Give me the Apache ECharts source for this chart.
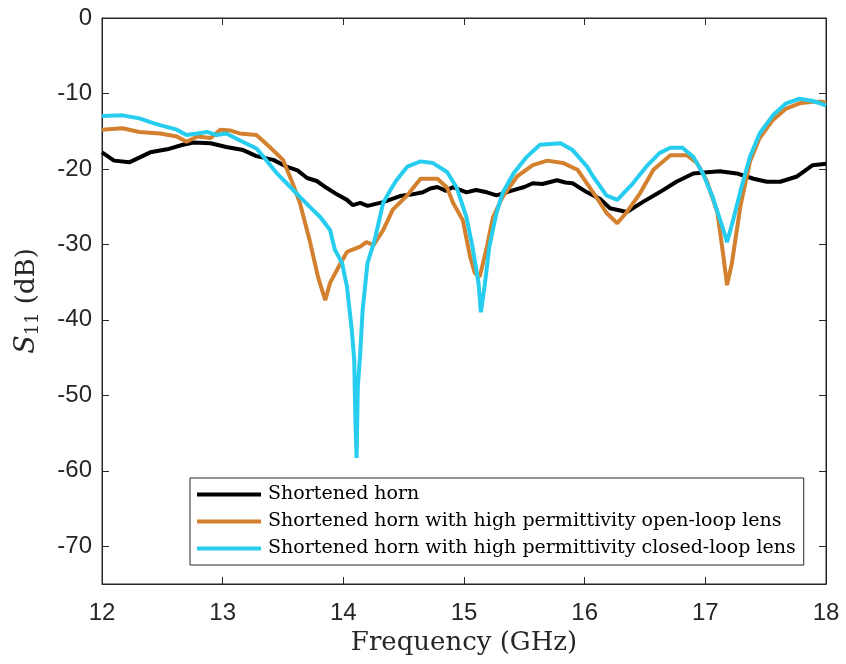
<!DOCTYPE html>
<html>
<head>
<meta charset="utf-8">
<script src="https://cdn.jsdelivr.net/npm/echarts@6/dist/echarts.min.js"></script>
<style>html,body{margin:0;padding:0;background:#fff}#c{width:846px;height:664px}</style>
</head>
<body>
<div id="c"></div>
<script>
// ---- data ----
const seriesNames = [
  'Shortened horn',
  'Shortened horn with high permittivity open-loop lens',
  'Shortened horn with high permittivity closed-loop lens'
];
const yTicks = [0, -10, -20, -30, -40, -50, -60, -70];
const xTicks = [12, 13, 14, 15, 16, 17, 18];

const freqB = [12.0, 12.1, 12.23, 12.4, 12.54, 12.67, 12.76, 12.9, 13.03, 13.17, 13.28, 13.42, 13.53, 13.62, 13.7, 13.78, 13.86, 13.95, 14.03, 14.08, 14.14, 14.2, 14.33, 14.4, 14.47, 14.56, 14.66, 14.72, 14.78, 14.85, 14.91, 15.02, 15.1, 15.19, 15.27, 15.41, 15.5, 15.57, 15.65, 15.77, 15.84, 15.9, 16.02, 16.13, 16.21, 16.35, 16.48, 16.62, 16.76, 16.9, 17.04, 17.12, 17.26, 17.4, 17.51, 17.62, 17.76, 17.89, 18.0];
const valB = [-17.8, -18.9, -19.1, -17.8, -17.4, -16.8, -16.5, -16.6, -17.1, -17.5, -18.3, -18.8, -19.7, -20.2, -21.2, -21.6, -22.5, -23.4, -24.1, -24.8, -24.5, -24.9, -24.4, -24.0, -23.6, -23.4, -23.1, -22.6, -22.4, -22.9, -22.4, -23.1, -22.8, -23.1, -23.5, -22.8, -22.4, -21.9, -22.0, -21.5, -21.8, -21.9, -23.1, -24.0, -25.2, -25.7, -24.4, -23.1, -21.7, -20.6, -20.4, -20.3, -20.6, -21.3, -21.7, -21.7, -21.0, -19.5, -19.3];

const freqO = [12.0, 12.17, 12.31, 12.48, 12.62, 12.7, 12.79, 12.9, 12.98, 13.06, 13.14, 13.28, 13.39, 13.5, 13.58, 13.64, 13.72, 13.79, 13.85, 13.89, 13.96, 14.03, 14.14, 14.19, 14.25, 14.33, 14.41, 14.53, 14.64, 14.78, 14.86, 14.91, 14.99, 15.05, 15.09, 15.13, 15.19, 15.24, 15.32, 15.44, 15.57, 15.69, 15.82, 15.94, 16.04, 16.12, 16.18, 16.27, 16.35, 16.46, 16.57, 16.71, 16.85, 16.93, 17.01, 17.1, 17.15, 17.18, 17.22, 17.29, 17.37, 17.45, 17.56, 17.67, 17.78, 17.89, 17.97, 18.0];
const valO = [-14.8, -14.6, -15.1, -15.3, -15.7, -16.4, -15.7, -15.9, -14.8, -14.9, -15.3, -15.5, -17.1, -18.8, -21.9, -24.5, -29.4, -34.3, -37.4, -35.1, -33.0, -31.0, -30.3, -29.7, -30.1, -28.1, -25.4, -23.5, -21.3, -21.3, -22.5, -24.5, -26.8, -31.6, -33.8, -34.3, -30.3, -26.4, -23.7, -21.0, -19.5, -18.9, -19.2, -20.1, -22.4, -24.3, -25.8, -27.2, -25.7, -23.2, -20.1, -18.2, -18.2, -19.2, -21.5, -25.8, -31.6, -35.4, -32.5, -25.0, -19.0, -15.9, -13.5, -12.0, -11.3, -11.1, -11.1, -11.3];

const freqC = [12.0, 12.17, 12.31, 12.4, 12.48, 12.62, 12.7, 12.79, 12.87, 12.95, 13.03, 13.14, 13.28, 13.36, 13.45, 13.53, 13.64, 13.72, 13.81, 13.89, 13.93, 13.99, 14.03, 14.07, 14.09, 14.1, 14.11, 14.12, 14.14, 14.16, 14.2, 14.26, 14.3, 14.33, 14.39, 14.44, 14.53, 14.64, 14.74, 14.86, 14.94, 15.02, 15.07, 15.12, 15.14, 15.17, 15.21, 15.27, 15.32, 15.41, 15.52, 15.63, 15.8, 15.9, 16.02, 16.07, 16.18, 16.27, 16.4, 16.51, 16.62, 16.71, 16.81, 16.9, 16.98, 17.06, 17.15, 17.18, 17.23, 17.3, 17.37, 17.45, 17.56, 17.67, 17.78, 17.89, 17.97, 18.0];
const valC = [-13.0, -12.9, -13.3, -13.8, -14.2, -14.8, -15.5, -15.3, -15.1, -15.5, -15.3, -16.2, -17.3, -18.8, -20.6, -21.9, -23.7, -25.0, -26.4, -28.1, -30.7, -32.5, -35.6, -41.3, -45.3, -53.3, -58.3, -48.9, -44.4, -38.7, -32.5, -29.4, -26.6, -24.5, -22.8, -21.5, -19.7, -19.0, -19.2, -20.4, -22.5, -26.4, -30.3, -35.1, -39.0, -35.6, -30.3, -25.8, -23.2, -20.6, -18.4, -16.8, -16.6, -17.5, -19.7, -21.0, -23.5, -24.1, -21.9, -19.7, -17.9, -17.2, -17.2, -18.4, -20.6, -23.7, -28.1, -29.7, -26.8, -22.4, -18.4, -15.3, -12.9, -11.3, -10.7, -11.0, -11.4, -11.6];

const colors = ['#000000', '#D3812F', '#26CDEE'];

// ---- chart ----
const zip = (xs, ys) => xs.map((x, i) => [x, ys[i]]);
const chart = echarts.init(document.getElementById('c'), null, {renderer: 'canvas'});
const axisColor = '#262626';
const serif = 'DejaVu Serif, serif';
const tickFont = {fontFamily: 'Liberation Sans, Arial, sans-serif', fontSize: 24, color: axisColor};

const option = {
  animation: false,
  backgroundColor: '#fff',
  grid: {left: 102, right: 20, top: 18, bottom: 80, show: true, borderColor: axisColor, borderWidth: 1},
  xAxis: [{
    type: 'value', min: 12, max: 18, interval: 1, position: 'bottom',
    axisLine: {show: true, onZero: false, lineStyle: {color: axisColor}},
    axisTick: {show: true, inside: true, length: 7, lineStyle: {color: axisColor}},
    splitLine: {show: false},
    axisLabel: Object.assign({margin: 17, customValues: xTicks}, tickFont),
    name: 'Frequency (GHz)', nameLocation: 'middle', nameGap: 42,
    nameTextStyle: {fontFamily: serif, fontSize: 26, color: axisColor}
  }, {
    type: 'value', min: 12, max: 18, interval: 1, position: 'top',
    axisLine: {show: true, onZero: false, lineStyle: {color: axisColor}},
    axisTick: {show: true, inside: true, length: 7, lineStyle: {color: axisColor}},
    axisLabel: {show: false}, splitLine: {show: false}
  }],
  yAxis: [{
    type: 'value', min: -75, max: 0, position: 'left',
    axisLine: {show: true, onZero: false, lineStyle: {color: axisColor}},
    axisTick: {show: true, inside: true, length: 7, customValues: yTicks, lineStyle: {color: axisColor}},
    splitLine: {show: false},
    axisLabel: Object.assign({margin: 10, customValues: yTicks}, tickFont),
    name: '{s|S}{sub|11} {t|(dB)}', nameLocation: 'middle', nameGap: 60,
    nameTextStyle: {
      fontFamily: serif, fontSize: 26, color: axisColor,
      rich: {
        s: {fontFamily: serif, fontStyle: 'italic', fontSize: 27, color: axisColor},
        sub: {fontFamily: serif, fontSize: 18, color: axisColor, padding: [12, 0, 0, 0]},
        t: {fontFamily: serif, fontSize: 26, color: axisColor}
      }
    }
  }, {
    type: 'value', min: -75, max: 0, position: 'right',
    axisLine: {show: true, onZero: false, lineStyle: {color: axisColor}},
    axisTick: {show: true, inside: true, length: 7, customValues: yTicks, lineStyle: {color: axisColor}},
    axisLabel: {show: false}, splitLine: {show: false}
  }],
  legend: {
    orient: 'vertical', left: 190, top: 478,
    backgroundColor: '#fff', borderColor: axisColor, borderWidth: 1,
    padding: [7, 8, 7, 7], itemGap: 8, itemWidth: 64, itemHeight: 4,
    icon: 'rect',
    textStyle: {fontFamily: serif, fontSize: 19, color: '#000', padding: [0, 0, 0, 2]},
    data: seriesNames
  },
  series: [
    {name: seriesNames[0], data: zip(freqB, valB)},
    {name: seriesNames[1], data: zip(freqO, valO)},
    {name: seriesNames[2], data: zip(freqC, valC)}
  ].map((s, i) => Object.assign({
    type: 'line', showSymbol: false, symbol: 'none', clip: true,
    lineStyle: {width: 4, color: colors[i]}, itemStyle: {color: colors[i]},
    xAxisIndex: 0, yAxisIndex: 0, z: 2 + i
  }, s))
};
chart.setOption(option);
</script>
</body>
</html>
